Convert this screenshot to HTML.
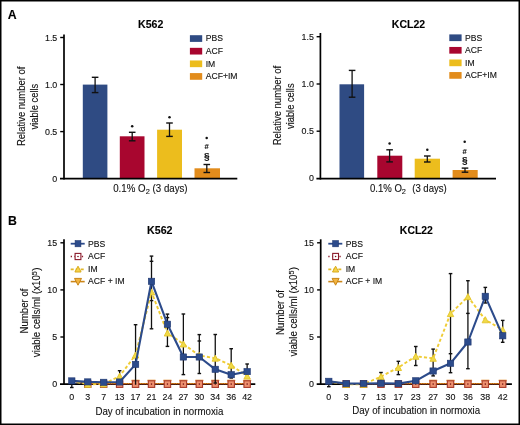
<!DOCTYPE html>
<html><head><meta charset="utf-8"><style>
html,body{margin:0;padding:0;background:#fff;}
svg{display:block;will-change:transform;}
text{font-family:"Liberation Sans", sans-serif;stroke:#111;stroke-width:0.12px;}
</style></head><body>
<svg width="520" height="425" viewBox="0 0 520 425">
<rect x="0" y="0" width="520" height="425" fill="#000"/>
<rect x="1.5" y="1.5" width="517" height="422" fill="#fff"/>
<text x="7.7" y="18.8" font-size="13.2" font-weight="bold" textLength="8.9" lengthAdjust="spacingAndGlyphs" fill="#000">A</text>
<text x="150.7" y="28.3" font-size="11.3" text-anchor="middle" font-weight="bold" textLength="25.3" lengthAdjust="spacingAndGlyphs" fill="#000">K562</text>
<text transform="translate(24.7,106.3) rotate(-90)" font-size="11.0" text-anchor="middle" textLength="79.5" lengthAdjust="spacingAndGlyphs" fill="#111">Relative number of</text>
<text transform="translate(37.7,106.6) rotate(-90)" font-size="11.0" text-anchor="middle" textLength="45.6" lengthAdjust="spacingAndGlyphs" fill="#111">viable cells</text>
<rect x="82.8" y="84.6" width="24.6" height="94.1" fill="#2f4b83"/>
<rect x="119.8" y="136.3" width="24.7" height="42.4" fill="#a8062f"/>
<rect x="157.1" y="129.7" width="24.9" height="49" fill="#ecbd1d"/>
<rect x="194.5" y="168.3" width="25.5" height="10.4" fill="#e28c1c"/>
<line x1="95.1" y1="77.3" x2="95.1" y2="92.6" stroke="#111" stroke-width="1.3"/>
<line x1="91.8" y1="77.3" x2="98.4" y2="77.3" stroke="#111" stroke-width="1.4"/>
<line x1="91.8" y1="92.6" x2="98.4" y2="92.6" stroke="#111" stroke-width="1.4"/>
<line x1="132.2" y1="132.3" x2="132.2" y2="140.8" stroke="#111" stroke-width="1.3"/>
<line x1="128.9" y1="132.3" x2="135.5" y2="132.3" stroke="#111" stroke-width="1.4"/>
<line x1="128.9" y1="140.8" x2="135.5" y2="140.8" stroke="#111" stroke-width="1.4"/>
<line x1="169.5" y1="123" x2="169.5" y2="136.4" stroke="#111" stroke-width="1.3"/>
<line x1="166.2" y1="123" x2="172.8" y2="123" stroke="#111" stroke-width="1.4"/>
<line x1="166.2" y1="136.4" x2="172.8" y2="136.4" stroke="#111" stroke-width="1.4"/>
<line x1="206.8" y1="164.5" x2="206.8" y2="172.5" stroke="#111" stroke-width="1.3"/>
<line x1="203.5" y1="164.5" x2="210.1" y2="164.5" stroke="#111" stroke-width="1.4"/>
<line x1="203.5" y1="172.5" x2="210.1" y2="172.5" stroke="#111" stroke-width="1.4"/>
<line x1="64" y1="34.4" x2="64" y2="179.55" stroke="#000" stroke-width="1.7"/>
<line x1="60" y1="178.7" x2="237.3" y2="178.7" stroke="#000" stroke-width="1.7"/>
<line x1="60.2" y1="37.5" x2="64" y2="37.5" stroke="#000" stroke-width="1.4"/>
<line x1="60.2" y1="84.5" x2="64" y2="84.5" stroke="#000" stroke-width="1.4"/>
<line x1="60.2" y1="131.6" x2="64" y2="131.6" stroke="#000" stroke-width="1.4"/>
<text x="57.3" y="40.5" font-size="8.9" text-anchor="end" fill="#111">1.5</text>
<text x="57.3" y="87.6" font-size="8.9" text-anchor="end" fill="#111">1.0</text>
<text x="57.3" y="134.6" font-size="8.9" text-anchor="end" fill="#111">0.5</text>
<text x="57.3" y="181.7" font-size="8.9" text-anchor="end" fill="#111">0</text>
<rect x="189.9" y="35.2" width="12.3" height="6.7" fill="#2f4b83"/>
<text x="205.7" y="41.3" font-size="8.6" fill="#111">PBS</text>
<rect x="189.9" y="47.83" width="12.3" height="6.7" fill="#a8062f"/>
<text x="205.7" y="53.93" font-size="8.6" fill="#111">ACF</text>
<rect x="189.9" y="60.46" width="12.3" height="6.7" fill="#ecbd1d"/>
<text x="205.7" y="66.56" font-size="8.6" fill="#111">IM</text>
<rect x="189.9" y="73.09" width="12.3" height="6.7" fill="#e28c1c"/>
<text x="205.7" y="79.19" font-size="8.6" fill="#111">ACF+IM</text>
<circle cx="132.2" cy="126.2" r="1.25" fill="#111"/>
<circle cx="169.5" cy="117.2" r="1.25" fill="#111"/>
<circle cx="206.7" cy="138.1" r="1.25" fill="#111"/>
<text x="206.7" y="149.3" font-size="7.6" text-anchor="middle" font-weight="bold" fill="#111">#</text>
<text x="206.8" y="159" font-size="8.4" text-anchor="middle" font-weight="bold" textLength="5.6" lengthAdjust="spacingAndGlyphs" fill="#111">§</text>
<text x="113.2" y="191.6" font-size="11.0" textLength="32.3" lengthAdjust="spacingAndGlyphs" fill="#111">0.1% O</text>
<text x="145.8" y="194" font-size="7.4" fill="#111">2</text>
<text x="152.6" y="191.6" font-size="11.0" textLength="35" lengthAdjust="spacingAndGlyphs" fill="#111">(3 days)</text>
<text x="408.5" y="28.3" font-size="11.3" text-anchor="middle" font-weight="bold" textLength="33.3" lengthAdjust="spacingAndGlyphs" fill="#000">KCL22</text>
<text transform="translate(281,105.5) rotate(-90)" font-size="11.0" text-anchor="middle" textLength="79.5" lengthAdjust="spacingAndGlyphs" fill="#111">Relative number of</text>
<text transform="translate(294.1,106.2) rotate(-90)" font-size="11.0" text-anchor="middle" textLength="45.6" lengthAdjust="spacingAndGlyphs" fill="#111">viable cells</text>
<rect x="339.5" y="84.3" width="24.6" height="94.4" fill="#2f4b83"/>
<rect x="377.3" y="155.7" width="25" height="23" fill="#a8062f"/>
<rect x="414.7" y="158.7" width="25.3" height="20" fill="#ecbd1d"/>
<rect x="452.6" y="170" width="25.1" height="8.7" fill="#e28c1c"/>
<line x1="352.1" y1="70.4" x2="352.1" y2="97.2" stroke="#111" stroke-width="1.3"/>
<line x1="348.8" y1="70.4" x2="355.4" y2="70.4" stroke="#111" stroke-width="1.4"/>
<line x1="348.8" y1="97.2" x2="355.4" y2="97.2" stroke="#111" stroke-width="1.4"/>
<line x1="389.6" y1="149.8" x2="389.6" y2="161.9" stroke="#111" stroke-width="1.3"/>
<line x1="386.3" y1="149.8" x2="392.9" y2="149.8" stroke="#111" stroke-width="1.4"/>
<line x1="386.3" y1="161.9" x2="392.9" y2="161.9" stroke="#111" stroke-width="1.4"/>
<line x1="427.3" y1="156" x2="427.3" y2="162" stroke="#111" stroke-width="1.3"/>
<line x1="424" y1="156" x2="430.6" y2="156" stroke="#111" stroke-width="1.4"/>
<line x1="424" y1="162" x2="430.6" y2="162" stroke="#111" stroke-width="1.4"/>
<line x1="465" y1="168.1" x2="465" y2="172.2" stroke="#111" stroke-width="1.3"/>
<line x1="461.7" y1="168.1" x2="468.3" y2="168.1" stroke="#111" stroke-width="1.4"/>
<line x1="461.7" y1="172.2" x2="468.3" y2="172.2" stroke="#111" stroke-width="1.4"/>
<line x1="320.4" y1="33" x2="320.4" y2="179.55" stroke="#000" stroke-width="1.7"/>
<line x1="316.4" y1="178.7" x2="496" y2="178.7" stroke="#000" stroke-width="1.7"/>
<line x1="316.6" y1="36.7" x2="320.4" y2="36.7" stroke="#000" stroke-width="1.4"/>
<line x1="316.6" y1="84" x2="320.4" y2="84" stroke="#000" stroke-width="1.4"/>
<line x1="316.6" y1="131.2" x2="320.4" y2="131.2" stroke="#000" stroke-width="1.4"/>
<text x="313.9" y="39.7" font-size="8.9" text-anchor="end" fill="#111">1.5</text>
<text x="313.9" y="86.8" font-size="8.9" text-anchor="end" fill="#111">1.0</text>
<text x="313.9" y="134.1" font-size="8.9" text-anchor="end" fill="#111">0.5</text>
<text x="313.9" y="181.4" font-size="8.9" text-anchor="end" fill="#111">0</text>
<rect x="449.3" y="34.4" width="12.3" height="6.7" fill="#2f4b83"/>
<text x="465.1" y="40.5" font-size="8.6" fill="#111">PBS</text>
<rect x="449.3" y="46.95" width="12.3" height="6.7" fill="#a8062f"/>
<text x="465.1" y="53.05" font-size="8.6" fill="#111">ACF</text>
<rect x="449.3" y="59.5" width="12.3" height="6.7" fill="#ecbd1d"/>
<text x="465.1" y="65.6" font-size="8.6" fill="#111">IM</text>
<rect x="449.3" y="72.05" width="12.3" height="6.7" fill="#e28c1c"/>
<text x="465.1" y="78.15" font-size="8.6" fill="#111">ACF+IM</text>
<circle cx="389.6" cy="143.6" r="1.25" fill="#111"/>
<circle cx="427.3" cy="149.8" r="1.25" fill="#111"/>
<circle cx="464.7" cy="141.8" r="1.25" fill="#111"/>
<text x="464.7" y="153.8" font-size="7.6" text-anchor="middle" font-weight="bold" fill="#111">#</text>
<text x="464.8" y="162.5" font-size="8.4" text-anchor="middle" font-weight="bold" textLength="5.6" lengthAdjust="spacingAndGlyphs" fill="#111">§</text>
<text x="370" y="191.6" font-size="11.0" textLength="32" lengthAdjust="spacingAndGlyphs" fill="#111">0.1% O</text>
<text x="401.8" y="194" font-size="7.4" fill="#111">2</text>
<text x="412.2" y="191.6" font-size="11.0" textLength="34.6" lengthAdjust="spacingAndGlyphs" fill="#111">(3 days)</text>
<text x="8.1" y="225.2" font-size="13.6" font-weight="bold" textLength="8.9" lengthAdjust="spacingAndGlyphs" fill="#000">B</text>
<text x="159.8" y="233.7" font-size="11.3" text-anchor="middle" font-weight="bold" textLength="25.5" lengthAdjust="spacingAndGlyphs" fill="#000">K562</text>
<text transform="translate(27.6,311) rotate(-90)" font-size="10.8" text-anchor="middle" textLength="44.8" lengthAdjust="spacingAndGlyphs" fill="#111">Number of</text>
<text transform="translate(40.4,312.3) rotate(-90)" font-size="10.8" text-anchor="middle" fill="#111"><tspan textLength="82.0" lengthAdjust="spacingAndGlyphs">viable cells/ml (x10</tspan><tspan font-size="7.4" dy="-3.6">5</tspan><tspan dy="3.6">)</tspan></text>
<line x1="64" y1="239.3" x2="64" y2="384.95" stroke="#000" stroke-width="1.7"/>
<line x1="60" y1="384.1" x2="255.3" y2="384.1" stroke="#000" stroke-width="1.7"/>
<line x1="60.4" y1="337" x2="64" y2="337" stroke="#000" stroke-width="1.4"/>
<line x1="60.4" y1="289.9" x2="64" y2="289.9" stroke="#000" stroke-width="1.4"/>
<line x1="60.4" y1="242.8" x2="64" y2="242.8" stroke="#000" stroke-width="1.4"/>
<text x="57.2" y="246" font-size="8.9" text-anchor="end" fill="#111">15</text>
<text x="57.2" y="293.1" font-size="8.9" text-anchor="end" fill="#111">10</text>
<text x="57.2" y="340.2" font-size="8.9" text-anchor="end" fill="#111">5</text>
<text x="57.2" y="387.3" font-size="8.9" text-anchor="end" fill="#111">0</text>
<text x="71.8" y="399.6" font-size="8.9" text-anchor="middle" fill="#111">0</text>
<text x="87.74" y="399.6" font-size="8.9" text-anchor="middle" fill="#111">3</text>
<text x="103.68" y="399.6" font-size="8.9" text-anchor="middle" fill="#111">7</text>
<text x="119.62" y="399.6" font-size="8.9" text-anchor="middle" fill="#111">13</text>
<text x="135.56" y="399.6" font-size="8.9" text-anchor="middle" fill="#111">17</text>
<text x="151.5" y="399.6" font-size="8.9" text-anchor="middle" fill="#111">21</text>
<text x="167.44" y="399.6" font-size="8.9" text-anchor="middle" fill="#111">24</text>
<text x="183.38" y="399.6" font-size="8.9" text-anchor="middle" fill="#111">27</text>
<text x="199.32" y="399.6" font-size="8.9" text-anchor="middle" fill="#111">30</text>
<text x="215.26" y="399.6" font-size="8.9" text-anchor="middle" fill="#111">34</text>
<text x="231.2" y="399.6" font-size="8.9" text-anchor="middle" fill="#111">36</text>
<text x="247.14" y="399.6" font-size="8.9" text-anchor="middle" fill="#111">42</text>
<text x="95.4" y="414.6" font-size="11.8" textLength="128" lengthAdjust="spacingAndGlyphs" fill="#111">Day of incubation in normoxia</text>
<polyline points="71.8,381 87.74,383.6 103.68,383.6 119.62,383.6 135.56,383.6 151.5,383.6 167.44,383.6 183.38,383.6 199.32,383.6 215.26,383.6 231.2,383.6 247.14,383.6" fill="none" stroke="#d98c17" stroke-width="1.2"/>
<polyline points="71.8,381 87.74,384.1 103.68,384.1 119.62,384.1 135.56,384.1 151.5,384.1 167.44,384.1 183.38,384.1 199.32,384.1 215.26,384.1 231.2,384.1 247.14,384.1" fill="none" stroke="#7a1a20" stroke-width="1.1" stroke-dasharray="1.2,1.2"/>
<path d="M131.56,380 L139.56,380 L135.56,387.2 Z" fill="#f3a862" stroke="#e8a050" stroke-width="0.7"/>
<path d="M147.5,380 L155.5,380 L151.5,387.2 Z" fill="#f3a862" stroke="#e8a050" stroke-width="0.7"/>
<path d="M163.44,380 L171.44,380 L167.44,387.2 Z" fill="#f3a862" stroke="#e8a050" stroke-width="0.7"/>
<path d="M179.38,380 L187.38,380 L183.38,387.2 Z" fill="#f3a862" stroke="#e8a050" stroke-width="0.7"/>
<path d="M195.32,380 L203.32,380 L199.32,387.2 Z" fill="#f3a862" stroke="#e8a050" stroke-width="0.7"/>
<path d="M211.26,380 L219.26,380 L215.26,387.2 Z" fill="#f3a862" stroke="#e8a050" stroke-width="0.7"/>
<path d="M227.2,380 L235.2,380 L231.2,387.2 Z" fill="#f3a862" stroke="#e8a050" stroke-width="0.7"/>
<path d="M243.14,380 L251.14,380 L247.14,387.2 Z" fill="#f3a862" stroke="#e8a050" stroke-width="0.7"/>
<rect x="84.54" y="380.8" width="6.4" height="6.6" fill="#ee9270" stroke="#a83a2a" stroke-width="1.1"/>
<circle cx="87.74" cy="384.1" r="0.8" fill="#7a1818"/>
<rect x="100.48" y="380.8" width="6.4" height="6.6" fill="#ee9270" stroke="#a83a2a" stroke-width="1.1"/>
<circle cx="103.68" cy="384.1" r="0.8" fill="#7a1818"/>
<rect x="116.42" y="380.8" width="6.4" height="6.6" fill="#ee9270" stroke="#a83a2a" stroke-width="1.1"/>
<circle cx="119.62" cy="384.1" r="0.8" fill="#7a1818"/>
<rect x="132.36" y="380.8" width="6.4" height="6.6" fill="#ee9270" stroke="#a83a2a" stroke-width="1.1"/>
<circle cx="135.56" cy="384.1" r="0.8" fill="#7a1818"/>
<rect x="148.3" y="380.8" width="6.4" height="6.6" fill="#ee9270" stroke="#a83a2a" stroke-width="1.1"/>
<circle cx="151.5" cy="384.1" r="0.8" fill="#7a1818"/>
<rect x="164.24" y="380.8" width="6.4" height="6.6" fill="#ee9270" stroke="#a83a2a" stroke-width="1.1"/>
<circle cx="167.44" cy="384.1" r="0.8" fill="#7a1818"/>
<rect x="180.18" y="380.8" width="6.4" height="6.6" fill="#ee9270" stroke="#a83a2a" stroke-width="1.1"/>
<circle cx="183.38" cy="384.1" r="0.8" fill="#7a1818"/>
<rect x="196.12" y="380.8" width="6.4" height="6.6" fill="#ee9270" stroke="#a83a2a" stroke-width="1.1"/>
<circle cx="199.32" cy="384.1" r="0.8" fill="#7a1818"/>
<rect x="212.06" y="380.8" width="6.4" height="6.6" fill="#ee9270" stroke="#a83a2a" stroke-width="1.1"/>
<circle cx="215.26" cy="384.1" r="0.8" fill="#7a1818"/>
<rect x="228" y="380.8" width="6.4" height="6.6" fill="#ee9270" stroke="#a83a2a" stroke-width="1.1"/>
<circle cx="231.2" cy="384.1" r="0.8" fill="#7a1818"/>
<rect x="243.94" y="380.8" width="6.4" height="6.6" fill="#ee9270" stroke="#a83a2a" stroke-width="1.1"/>
<circle cx="247.14" cy="384.1" r="0.8" fill="#7a1818"/>
<line x1="71.8" y1="380.9" x2="71.8" y2="387.5" stroke="#111" stroke-width="1.3"/>
<line x1="70" y1="387.5" x2="73.6" y2="387.5" stroke="#111" stroke-width="1.4"/>
<line x1="70" y1="380.9" x2="73.6" y2="380.9" stroke="#111" stroke-width="1.4"/>
<line x1="151.5" y1="256.1" x2="151.5" y2="328.8" stroke="#111" stroke-width="1.3"/>
<line x1="149.7" y1="256.1" x2="153.3" y2="256.1" stroke="#111" stroke-width="1.4"/>
<line x1="149.7" y1="261.3" x2="153.3" y2="261.3" stroke="#111" stroke-width="1.4"/>
<line x1="149.7" y1="300.6" x2="153.3" y2="300.6" stroke="#111" stroke-width="1.4"/>
<line x1="149.7" y1="328.8" x2="153.3" y2="328.8" stroke="#111" stroke-width="1.4"/>
<line x1="167.44" y1="314.1" x2="167.44" y2="346.4" stroke="#111" stroke-width="1.3"/>
<line x1="165.64" y1="314.1" x2="169.24" y2="314.1" stroke="#111" stroke-width="1.4"/>
<line x1="165.64" y1="317.6" x2="169.24" y2="317.6" stroke="#111" stroke-width="1.4"/>
<line x1="165.64" y1="346.4" x2="169.24" y2="346.4" stroke="#111" stroke-width="1.4"/>
<line x1="183.38" y1="314" x2="183.38" y2="374.6" stroke="#111" stroke-width="1.3"/>
<line x1="181.58" y1="314" x2="185.18" y2="314" stroke="#111" stroke-width="1.4"/>
<line x1="181.58" y1="374.6" x2="185.18" y2="374.6" stroke="#111" stroke-width="1.4"/>
<line x1="199.32" y1="334.6" x2="199.32" y2="373.5" stroke="#111" stroke-width="1.3"/>
<line x1="197.52" y1="334.6" x2="201.12" y2="334.6" stroke="#111" stroke-width="1.4"/>
<line x1="197.52" y1="341" x2="201.12" y2="341" stroke="#111" stroke-width="1.4"/>
<line x1="197.52" y1="373.5" x2="201.12" y2="373.5" stroke="#111" stroke-width="1.4"/>
<line x1="215.26" y1="334.5" x2="215.26" y2="383" stroke="#111" stroke-width="1.3"/>
<line x1="213.46" y1="334.5" x2="217.06" y2="334.5" stroke="#111" stroke-width="1.4"/>
<line x1="213.46" y1="358.2" x2="217.06" y2="358.2" stroke="#111" stroke-width="1.4"/>
<line x1="213.46" y1="383" x2="217.06" y2="383" stroke="#111" stroke-width="1.4"/>
<line x1="231.2" y1="348.7" x2="231.2" y2="378" stroke="#111" stroke-width="1.3"/>
<line x1="229.4" y1="348.7" x2="233" y2="348.7" stroke="#111" stroke-width="1.4"/>
<line x1="229.4" y1="378" x2="233" y2="378" stroke="#111" stroke-width="1.4"/>
<line x1="247.14" y1="364" x2="247.14" y2="378" stroke="#111" stroke-width="1.3"/>
<line x1="245.34" y1="364" x2="248.94" y2="364" stroke="#111" stroke-width="1.4"/>
<line x1="245.34" y1="378" x2="248.94" y2="378" stroke="#111" stroke-width="1.4"/>
<line x1="135.56" y1="324.7" x2="135.56" y2="384.5" stroke="#111" stroke-width="1.3"/>
<line x1="133.76" y1="324.7" x2="137.36" y2="324.7" stroke="#111" stroke-width="1.4"/>
<line x1="119.62" y1="370.7" x2="119.62" y2="382" stroke="#111" stroke-width="1.3"/>
<line x1="117.82" y1="370.7" x2="121.42" y2="370.7" stroke="#111" stroke-width="1.4"/>
<line x1="117.82" y1="382" x2="121.42" y2="382" stroke="#111" stroke-width="1.4"/>
<polyline points="71.8,381 87.74,384.3 103.68,384 119.62,376.2 135.56,355 151.5,292 167.44,333 183.38,344 199.32,355.5 215.26,358.2 231.2,365.3 247.14,376" fill="none" stroke="#efcc34" stroke-width="1.9" stroke-dasharray="3.2,2.2"/>
<path d="M87.74,381.2 L90.94,387.3 L84.54,387.3 Z" fill="#f0da48" stroke="#e4c42a" stroke-width="0.9"/>
<path d="M103.68,380.9 L106.88,387 L100.48,387 Z" fill="#f0da48" stroke="#e4c42a" stroke-width="0.9"/>
<path d="M119.62,373.1 L122.82,379.2 L116.42,379.2 Z" fill="#f0da48" stroke="#e4c42a" stroke-width="0.9"/>
<path d="M135.56,351.9 L138.76,358 L132.36,358 Z" fill="#f0da48" stroke="#e4c42a" stroke-width="0.9"/>
<path d="M151.5,288.9 L154.7,295 L148.3,295 Z" fill="#f0da48" stroke="#e4c42a" stroke-width="0.9"/>
<path d="M167.44,329.9 L170.64,336 L164.24,336 Z" fill="#f0da48" stroke="#e4c42a" stroke-width="0.9"/>
<path d="M183.38,340.9 L186.58,347 L180.18,347 Z" fill="#f0da48" stroke="#e4c42a" stroke-width="0.9"/>
<path d="M199.32,352.4 L202.52,358.5 L196.12,358.5 Z" fill="#f0da48" stroke="#e4c42a" stroke-width="0.9"/>
<path d="M215.26,355.1 L218.46,361.2 L212.06,361.2 Z" fill="#f0da48" stroke="#e4c42a" stroke-width="0.9"/>
<path d="M231.2,362.2 L234.4,368.3 L228,368.3 Z" fill="#f0da48" stroke="#e4c42a" stroke-width="0.9"/>
<path d="M247.14,372.9 L250.34,379 L243.94,379 Z" fill="#f0da48" stroke="#e4c42a" stroke-width="0.9"/>
<polyline points="71.8,380.9 87.74,381.9 103.68,382.3 119.62,382 135.56,364.4 151.5,281.3 167.44,324.2 183.38,357 199.32,357 215.26,369.3 231.2,374.7 247.14,371.6" fill="none" stroke="#2c4b8b" stroke-width="2.1" stroke-linejoin="round"/>
<rect x="68.6" y="377.8" width="6.4" height="6.2" fill="#2c4b8b" stroke="#1f3770" stroke-width="0.6"/>
<rect x="84.54" y="378.8" width="6.4" height="6.2" fill="#2c4b8b" stroke="#1f3770" stroke-width="0.6"/>
<rect x="100.48" y="379.2" width="6.4" height="6.2" fill="#2c4b8b" stroke="#1f3770" stroke-width="0.6"/>
<rect x="116.42" y="378.9" width="6.4" height="6.2" fill="#2c4b8b" stroke="#1f3770" stroke-width="0.6"/>
<rect x="132.36" y="361.3" width="6.4" height="6.2" fill="#2c4b8b" stroke="#1f3770" stroke-width="0.6"/>
<rect x="148.3" y="278.2" width="6.4" height="6.2" fill="#2c4b8b" stroke="#1f3770" stroke-width="0.6"/>
<rect x="164.24" y="321.1" width="6.4" height="6.2" fill="#2c4b8b" stroke="#1f3770" stroke-width="0.6"/>
<rect x="180.18" y="353.9" width="6.4" height="6.2" fill="#2c4b8b" stroke="#1f3770" stroke-width="0.6"/>
<rect x="196.12" y="353.9" width="6.4" height="6.2" fill="#2c4b8b" stroke="#1f3770" stroke-width="0.6"/>
<rect x="212.06" y="366.2" width="6.4" height="6.2" fill="#2c4b8b" stroke="#1f3770" stroke-width="0.6"/>
<rect x="228" y="371.6" width="6.4" height="6.2" fill="#2c4b8b" stroke="#1f3770" stroke-width="0.6"/>
<rect x="243.94" y="368.5" width="6.4" height="6.2" fill="#2c4b8b" stroke="#1f3770" stroke-width="0.6"/>
<line x1="70.7" y1="243.7" x2="84.7" y2="243.7" stroke="#2c4b8b" stroke-width="1.8"/>
<rect x="75.1" y="240.6" width="5.8" height="6.2" fill="#2c4b8b" stroke="#1f3770" stroke-width="0.6"/>
<line x1="70.7" y1="256.5" x2="84.7" y2="256.5" stroke="#8a1a2a" stroke-width="1.3" stroke-dasharray="1.3,2.4"/>
<rect x="75.1" y="253.4" width="5.8" height="6.2" fill="#fff" stroke="#8a1a2a" stroke-width="1.1"/>
<circle cx="78" cy="256.5" r="0.8" fill="#7a1020"/>
<line x1="70.7" y1="269.4" x2="84.7" y2="269.4" stroke="#e2b82a" stroke-width="1.8" stroke-dasharray="3,2"/>
<path d="M78,266.2 L81.1,272 L74.9,272 Z" fill="#f6d24a" stroke="#d8aa1c" stroke-width="1"/>
<line x1="70.7" y1="281.6" x2="84.7" y2="281.6" stroke="#cc8618" stroke-width="1.6"/>
<path d="M74.5,278.4 L81.5,278.4 L78,285.2 Z" fill="#f2b440" stroke="#c88416" stroke-width="1"/>
<text x="88.1" y="246.5" font-size="8.6" fill="#111">PBS</text>
<text x="88.1" y="259.3" font-size="8.6" fill="#111">ACF</text>
<text x="88.1" y="271.8" font-size="8.6" fill="#111">IM</text>
<text x="88.1" y="284.4" font-size="8.6" fill="#111">ACF + IM</text>
<text x="416.4" y="233.7" font-size="11.3" text-anchor="middle" font-weight="bold" textLength="33.1" lengthAdjust="spacingAndGlyphs" fill="#000">KCL22</text>
<text transform="translate(284.3,312.5) rotate(-90)" font-size="10.8" text-anchor="middle" textLength="44.8" lengthAdjust="spacingAndGlyphs" fill="#111">Number of</text>
<text transform="translate(297.1,311.7) rotate(-90)" font-size="10.8" text-anchor="middle" fill="#111"><tspan textLength="82.0" lengthAdjust="spacingAndGlyphs">viable cells/ml (x10</tspan><tspan font-size="7.4" dy="-3.6">5</tspan><tspan dy="3.6">)</tspan></text>
<line x1="320.7" y1="239.3" x2="320.7" y2="384.95" stroke="#000" stroke-width="1.7"/>
<line x1="316.7" y1="384.1" x2="511.9" y2="384.1" stroke="#000" stroke-width="1.7"/>
<line x1="317.1" y1="337" x2="320.7" y2="337" stroke="#000" stroke-width="1.4"/>
<line x1="317.1" y1="289.9" x2="320.7" y2="289.9" stroke="#000" stroke-width="1.4"/>
<line x1="317.1" y1="242.8" x2="320.7" y2="242.8" stroke="#000" stroke-width="1.4"/>
<text x="313.9" y="246" font-size="8.9" text-anchor="end" fill="#111">15</text>
<text x="313.9" y="293.1" font-size="8.9" text-anchor="end" fill="#111">10</text>
<text x="313.9" y="340.2" font-size="8.9" text-anchor="end" fill="#111">5</text>
<text x="313.9" y="387.3" font-size="8.9" text-anchor="end" fill="#111">0</text>
<text x="328.8" y="399.6" font-size="8.9" text-anchor="middle" fill="#111">0</text>
<text x="346.19" y="399.6" font-size="8.9" text-anchor="middle" fill="#111">3</text>
<text x="363.58" y="399.6" font-size="8.9" text-anchor="middle" fill="#111">7</text>
<text x="380.97" y="399.6" font-size="8.9" text-anchor="middle" fill="#111">13</text>
<text x="398.36" y="399.6" font-size="8.9" text-anchor="middle" fill="#111">17</text>
<text x="415.75" y="399.6" font-size="8.9" text-anchor="middle" fill="#111">23</text>
<text x="433.14" y="399.6" font-size="8.9" text-anchor="middle" fill="#111">27</text>
<text x="450.53" y="399.6" font-size="8.9" text-anchor="middle" fill="#111">30</text>
<text x="467.92" y="399.6" font-size="8.9" text-anchor="middle" fill="#111">36</text>
<text x="485.31" y="399.6" font-size="8.9" text-anchor="middle" fill="#111">38</text>
<text x="502.7" y="399.6" font-size="8.9" text-anchor="middle" fill="#111">42</text>
<text x="352.2" y="414.2" font-size="11.8" textLength="128" lengthAdjust="spacingAndGlyphs" fill="#111">Day of incubation in normoxia</text>
<polyline points="328.8,381.3 346.19,383.6 363.58,383.6 380.97,383.6 398.36,383.6 415.75,383.6 433.14,383.6 450.53,383.6 467.92,383.6 485.31,383.6 502.7,383.6" fill="none" stroke="#d98c17" stroke-width="1.2"/>
<polyline points="328.8,381.3 346.19,384.1 363.58,384.1 380.97,384.1 398.36,384.1 415.75,384.1 433.14,384.1 450.53,384.1 467.92,384.1 485.31,384.1 502.7,384.1" fill="none" stroke="#7a1a20" stroke-width="1.1" stroke-dasharray="1.2,1.2"/>
<path d="M429.14,380 L437.14,380 L433.14,387.2 Z" fill="#f3a862" stroke="#e8a050" stroke-width="0.7"/>
<path d="M446.53,380 L454.53,380 L450.53,387.2 Z" fill="#f3a862" stroke="#e8a050" stroke-width="0.7"/>
<path d="M463.92,380 L471.92,380 L467.92,387.2 Z" fill="#f3a862" stroke="#e8a050" stroke-width="0.7"/>
<path d="M481.31,380 L489.31,380 L485.31,387.2 Z" fill="#f3a862" stroke="#e8a050" stroke-width="0.7"/>
<path d="M498.7,380 L506.7,380 L502.7,387.2 Z" fill="#f3a862" stroke="#e8a050" stroke-width="0.7"/>
<rect x="342.99" y="380.8" width="6.4" height="6.6" fill="#ee9270" stroke="#a83a2a" stroke-width="1.1"/>
<circle cx="346.19" cy="384.1" r="0.8" fill="#7a1818"/>
<rect x="360.38" y="380.8" width="6.4" height="6.6" fill="#ee9270" stroke="#a83a2a" stroke-width="1.1"/>
<circle cx="363.58" cy="384.1" r="0.8" fill="#7a1818"/>
<rect x="377.77" y="380.8" width="6.4" height="6.6" fill="#ee9270" stroke="#a83a2a" stroke-width="1.1"/>
<circle cx="380.97" cy="384.1" r="0.8" fill="#7a1818"/>
<rect x="395.16" y="380.8" width="6.4" height="6.6" fill="#ee9270" stroke="#a83a2a" stroke-width="1.1"/>
<circle cx="398.36" cy="384.1" r="0.8" fill="#7a1818"/>
<rect x="412.55" y="380.8" width="6.4" height="6.6" fill="#ee9270" stroke="#a83a2a" stroke-width="1.1"/>
<circle cx="415.75" cy="384.1" r="0.8" fill="#7a1818"/>
<rect x="429.94" y="380.8" width="6.4" height="6.6" fill="#ee9270" stroke="#a83a2a" stroke-width="1.1"/>
<circle cx="433.14" cy="384.1" r="0.8" fill="#7a1818"/>
<rect x="447.33" y="380.8" width="6.4" height="6.6" fill="#ee9270" stroke="#a83a2a" stroke-width="1.1"/>
<circle cx="450.53" cy="384.1" r="0.8" fill="#7a1818"/>
<rect x="464.72" y="380.8" width="6.4" height="6.6" fill="#ee9270" stroke="#a83a2a" stroke-width="1.1"/>
<circle cx="467.92" cy="384.1" r="0.8" fill="#7a1818"/>
<rect x="482.11" y="380.8" width="6.4" height="6.6" fill="#ee9270" stroke="#a83a2a" stroke-width="1.1"/>
<circle cx="485.31" cy="384.1" r="0.8" fill="#7a1818"/>
<rect x="499.5" y="380.8" width="6.4" height="6.6" fill="#ee9270" stroke="#a83a2a" stroke-width="1.1"/>
<circle cx="502.7" cy="384.1" r="0.8" fill="#7a1818"/>
<line x1="328.8" y1="381.3" x2="328.8" y2="386.7" stroke="#111" stroke-width="1.3"/>
<line x1="327" y1="381.3" x2="330.6" y2="381.3" stroke="#111" stroke-width="1.4"/>
<line x1="327" y1="386.7" x2="330.6" y2="386.7" stroke="#111" stroke-width="1.4"/>
<line x1="380.97" y1="372.5" x2="380.97" y2="383" stroke="#111" stroke-width="1.3"/>
<line x1="379.17" y1="372.5" x2="382.77" y2="372.5" stroke="#111" stroke-width="1.4"/>
<line x1="379.17" y1="383" x2="382.77" y2="383" stroke="#111" stroke-width="1.4"/>
<line x1="398.36" y1="361.3" x2="398.36" y2="374.6" stroke="#111" stroke-width="1.3"/>
<line x1="396.56" y1="361.3" x2="400.16" y2="361.3" stroke="#111" stroke-width="1.4"/>
<line x1="396.56" y1="374.6" x2="400.16" y2="374.6" stroke="#111" stroke-width="1.4"/>
<line x1="415.75" y1="346.5" x2="415.75" y2="365.5" stroke="#111" stroke-width="1.3"/>
<line x1="413.95" y1="346.5" x2="417.55" y2="346.5" stroke="#111" stroke-width="1.4"/>
<line x1="413.95" y1="365.5" x2="417.55" y2="365.5" stroke="#111" stroke-width="1.4"/>
<line x1="433.14" y1="349.1" x2="433.14" y2="375.9" stroke="#111" stroke-width="1.3"/>
<line x1="431.34" y1="349.1" x2="434.94" y2="349.1" stroke="#111" stroke-width="1.4"/>
<line x1="431.34" y1="375.9" x2="434.94" y2="375.9" stroke="#111" stroke-width="1.4"/>
<line x1="450.53" y1="273.6" x2="450.53" y2="372.7" stroke="#111" stroke-width="1.3"/>
<line x1="448.73" y1="273.6" x2="452.33" y2="273.6" stroke="#111" stroke-width="1.4"/>
<line x1="448.73" y1="353.7" x2="452.33" y2="353.7" stroke="#111" stroke-width="1.4"/>
<line x1="448.73" y1="372.7" x2="452.33" y2="372.7" stroke="#111" stroke-width="1.4"/>
<line x1="467.92" y1="280.7" x2="467.92" y2="368.7" stroke="#111" stroke-width="1.3"/>
<line x1="466.12" y1="280.7" x2="469.72" y2="280.7" stroke="#111" stroke-width="1.4"/>
<line x1="466.12" y1="313.4" x2="469.72" y2="313.4" stroke="#111" stroke-width="1.4"/>
<line x1="466.12" y1="368.7" x2="469.72" y2="368.7" stroke="#111" stroke-width="1.4"/>
<line x1="485.31" y1="287.4" x2="485.31" y2="303" stroke="#111" stroke-width="1.3"/>
<line x1="483.51" y1="287.4" x2="487.11" y2="287.4" stroke="#111" stroke-width="1.4"/>
<line x1="483.51" y1="303" x2="487.11" y2="303" stroke="#111" stroke-width="1.4"/>
<line x1="502.7" y1="320.4" x2="502.7" y2="342.3" stroke="#111" stroke-width="1.3"/>
<line x1="500.9" y1="320.4" x2="504.5" y2="320.4" stroke="#111" stroke-width="1.4"/>
<line x1="500.9" y1="342.3" x2="504.5" y2="342.3" stroke="#111" stroke-width="1.4"/>
<polyline points="328.8,381.3 346.19,384.3 363.58,384.3 380.97,376.6 398.36,367.5 415.75,356.3 433.14,358.3 450.53,313.6 467.92,296.7 485.31,319.8 502.7,329.8" fill="none" stroke="#efcc34" stroke-width="1.9" stroke-dasharray="3.2,2.2"/>
<path d="M346.19,381.2 L349.39,387.3 L342.99,387.3 Z" fill="#f0da48" stroke="#e4c42a" stroke-width="0.9"/>
<path d="M363.58,381.2 L366.78,387.3 L360.38,387.3 Z" fill="#f0da48" stroke="#e4c42a" stroke-width="0.9"/>
<path d="M380.97,373.5 L384.17,379.6 L377.77,379.6 Z" fill="#f0da48" stroke="#e4c42a" stroke-width="0.9"/>
<path d="M398.36,364.4 L401.56,370.5 L395.16,370.5 Z" fill="#f0da48" stroke="#e4c42a" stroke-width="0.9"/>
<path d="M415.75,353.2 L418.95,359.3 L412.55,359.3 Z" fill="#f0da48" stroke="#e4c42a" stroke-width="0.9"/>
<path d="M433.14,355.2 L436.34,361.3 L429.94,361.3 Z" fill="#f0da48" stroke="#e4c42a" stroke-width="0.9"/>
<path d="M450.53,310.5 L453.73,316.6 L447.33,316.6 Z" fill="#f0da48" stroke="#e4c42a" stroke-width="0.9"/>
<path d="M467.92,293.6 L471.12,299.7 L464.72,299.7 Z" fill="#f0da48" stroke="#e4c42a" stroke-width="0.9"/>
<path d="M485.31,316.7 L488.51,322.8 L482.11,322.8 Z" fill="#f0da48" stroke="#e4c42a" stroke-width="0.9"/>
<path d="M502.7,326.7 L505.9,332.8 L499.5,332.8 Z" fill="#f0da48" stroke="#e4c42a" stroke-width="0.9"/>
<polyline points="328.8,381.3 346.19,383.6 363.58,383.5 380.97,383.2 398.36,383.6 415.75,380.8 433.14,371 450.53,363.3 467.92,342 485.31,296.3 502.7,335.8" fill="none" stroke="#2c4b8b" stroke-width="2.1" stroke-linejoin="round"/>
<rect x="325.6" y="378.2" width="6.4" height="6.2" fill="#2c4b8b" stroke="#1f3770" stroke-width="0.6"/>
<rect x="342.99" y="380.5" width="6.4" height="6.2" fill="#2c4b8b" stroke="#1f3770" stroke-width="0.6"/>
<rect x="360.38" y="380.4" width="6.4" height="6.2" fill="#2c4b8b" stroke="#1f3770" stroke-width="0.6"/>
<rect x="377.77" y="380.1" width="6.4" height="6.2" fill="#2c4b8b" stroke="#1f3770" stroke-width="0.6"/>
<rect x="395.16" y="380.5" width="6.4" height="6.2" fill="#2c4b8b" stroke="#1f3770" stroke-width="0.6"/>
<rect x="412.55" y="377.7" width="6.4" height="6.2" fill="#2c4b8b" stroke="#1f3770" stroke-width="0.6"/>
<rect x="429.94" y="367.9" width="6.4" height="6.2" fill="#2c4b8b" stroke="#1f3770" stroke-width="0.6"/>
<rect x="447.33" y="360.2" width="6.4" height="6.2" fill="#2c4b8b" stroke="#1f3770" stroke-width="0.6"/>
<rect x="464.72" y="338.9" width="6.4" height="6.2" fill="#2c4b8b" stroke="#1f3770" stroke-width="0.6"/>
<rect x="482.11" y="293.2" width="6.4" height="6.2" fill="#2c4b8b" stroke="#1f3770" stroke-width="0.6"/>
<rect x="499.5" y="332.7" width="6.4" height="6.2" fill="#2c4b8b" stroke="#1f3770" stroke-width="0.6"/>
<line x1="328.3" y1="243.7" x2="342.3" y2="243.7" stroke="#2c4b8b" stroke-width="1.8"/>
<rect x="332.7" y="240.6" width="5.8" height="6.2" fill="#2c4b8b" stroke="#1f3770" stroke-width="0.6"/>
<line x1="328.3" y1="256.5" x2="342.3" y2="256.5" stroke="#8a1a2a" stroke-width="1.3" stroke-dasharray="1.3,2.4"/>
<rect x="332.7" y="253.4" width="5.8" height="6.2" fill="#fff" stroke="#8a1a2a" stroke-width="1.1"/>
<circle cx="335.6" cy="256.5" r="0.8" fill="#7a1020"/>
<line x1="328.3" y1="269.4" x2="342.3" y2="269.4" stroke="#e2b82a" stroke-width="1.8" stroke-dasharray="3,2"/>
<path d="M335.6,266.2 L338.7,272 L332.5,272 Z" fill="#f6d24a" stroke="#d8aa1c" stroke-width="1"/>
<line x1="328.3" y1="281.6" x2="342.3" y2="281.6" stroke="#cc8618" stroke-width="1.6"/>
<path d="M332.1,278.4 L339.1,278.4 L335.6,285.2 Z" fill="#f2b440" stroke="#c88416" stroke-width="1"/>
<text x="345.7" y="246.5" font-size="8.6" fill="#111">PBS</text>
<text x="345.7" y="259.3" font-size="8.6" fill="#111">ACF</text>
<text x="345.7" y="271.8" font-size="8.6" fill="#111">IM</text>
<text x="345.7" y="284.4" font-size="8.6" fill="#111">ACF + IM</text>
</svg>
</body></html>
